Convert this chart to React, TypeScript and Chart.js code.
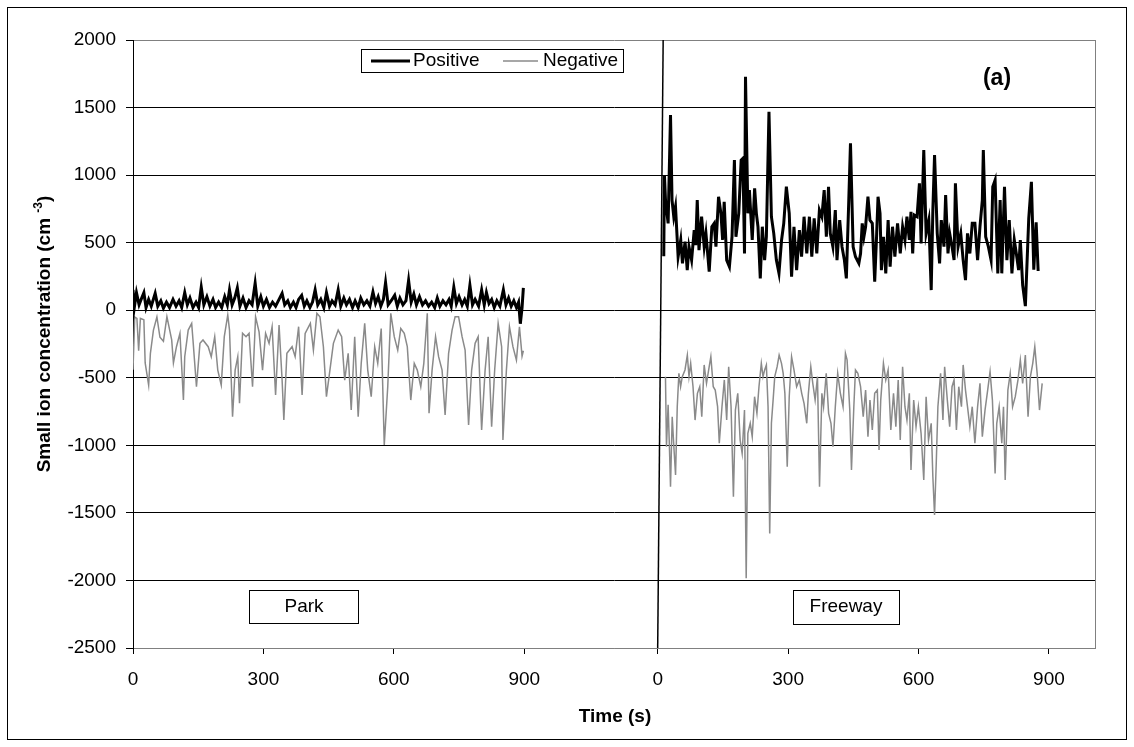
import { useEffect, useRef } from 'react';
import { Chart, registerables } from 'chart.js';

Chart.register(...registerables);

// ---------- data ----------
// x axis: Park time (s) starts at 0, Freeway time (s) starts at FREEWAY_START on the shared axis
const FREEWAY_START = 1207;
const X_AXIS_MAX = 2213;
const xTickValues = [0, 300, 600, 900, 1207, 1507, 1807, 2107];
const xTickLabels = ['0', '300', '600', '900', '0', '300', '600', '900'];
const Y_MIN = -2500;
const Y_MAX = 2000;
const Y_STEP = 500;

// [time (s), concentration (cm^-3)]
const parkPositive: [number, number][] = [
  [0, 150], [3, 20], [8, 130], [14, 40], [20, 90], [25, 130], [30, 20], [36, 80], [42, 30], [51, 125],
  [57, 30], [64, 70], [70, 15], [77, 60], [84, 20], [92, 80], [99, 30], [106, 70], [112, 20], [119, 130],
  [125, 40], [131, 90], [138, 20], [145, 60], [151, 20], [157, 170], [163, 40], [170, 100], [177, 30], [184, 80],
  [190, 20], [197, 60], [204, 20], [211, 100], [217, 40], [222, 150], [228, 40], [234, 90], [240, 165], [246, 30],
  [253, 90], [260, 20], [267, 70], [274, 40], [281, 200], [287, 30], [294, 100], [300, 30], [307, 80], [314, 20],
  [321, 60], [328, 30], [336, 80], [343, 125], [349, 40], [356, 70], [362, 20], [369, 60], [375, 20], [381, 80],
  [388, 110], [394, 30], [400, 70], [407, 20], [413, 60], [419, 150], [425, 40], [432, 80], [439, 20], [445, 130],
  [452, 30], [458, 70], [465, 40], [472, 150], [478, 30], [485, 90], [491, 40], [498, 80], [505, 20], [511, 70],
  [518, 20], [524, 90], [531, 40], [538, 70], [545, 30], [552, 135], [558, 50], [564, 100], [570, 30], [576, 80],
  [581, 205], [587, 40], [594, 70], [602, 110], [608, 30], [614, 90], [621, 40], [628, 70], [634, 220], [640, 60],
  [646, 120], [652, 40], [659, 100], [666, 40], [673, 70], [680, 30], [687, 60], [694, 20], [700, 90], [706, 30],
  [713, 70], [720, 40], [727, 80], [732, 30], [738, 170], [744, 50], [750, 100], [757, 40], [763, 80], [769, 30],
  [775, 185], [781, 40], [787, 80], [795, 30], [802, 150], [808, 40], [813, 130], [819, 50], [825, 80], [831, 20],
  [837, 70], [844, 30], [852, 150], [858, 40], [864, 90], [870, 30], [876, 70], [882, 20], [887, 60], [891, -100],
  [895, 20], [898, 165],
];

const parkNegative: [number, number][] = [
  [0, -440], [4, -50], [9, -60], [13, -300], [17, -60], [25, -70], [28, -390], [36, -555], [40, -320], [47, -147],
  [55, -50], [62, -200], [70, -230], [78, -48], [89, -220], [93, -390], [100, -270], [108, -171], [116, -665], [119, -344],
  [127, -147], [135, -97], [138, -220], [146, -566], [154, -245], [161, -220], [173, -270], [180, -344], [188, -196], [195, -443],
  [203, -554], [210, -196], [218, -35], [222, -147], [229, -788], [235, -443], [241, -344], [245, -689], [252, -171], [260, -196],
  [267, -171], [275, -566], [282, -48], [290, -160], [298, -443], [305, -171], [313, -245], [320, -122], [328, -628], [336, -110],
  [343, -517], [347, -813], [354, -319], [366, -270], [373, -344], [381, -122], [389, -628], [396, -171], [408, -97], [415, -295],
  [423, -23], [430, -48], [438, -270], [445, -640], [453, -443], [461, -245], [472, -147], [480, -196], [487, -517], [495, -319],
  [502, -739], [510, -196], [518, -788], [525, -393], [533, -97], [540, -443], [548, -640], [556, -270], [563, -393], [571, -135],
  [578, -998], [586, -566], [593, -23], [601, -196], [609, -295], [616, -135], [624, -171], [631, -270], [639, -665], [647, -393],
  [654, -443], [662, -566], [669, -393], [677, -23], [681, -763], [688, -443], [696, -196], [703, -344], [711, -443], [718, -776],
  [726, -319], [734, -147], [741, -48], [749, -48], [757, -196], [764, -295], [772, -850], [779, -443], [787, -245], [794, -196],
  [802, -887], [810, -443], [817, -196], [825, -862], [832, -443], [840, -97], [848, -270], [851, -961], [859, -443], [866, -122],
  [874, -270], [882, -369], [889, -122], [895, -340], [898, -300],
];

const freewayPositive: [number, number][] = [
  [14, 400], [15.5, 1000], [18, 815], [24, 643], [29.5, 1444], [33, 815], [37, 692], [41, 766], [47, 396], [53, 520],
  [57, 347], [63, 507], [68, 297], [72, 470], [78, 371], [84, 593], [87.5, 482], [91, 815], [95, 445], [101, 692],
  [107, 470], [111, 569], [118.5, 285], [124.6, 618], [130, 643], [134, 470], [140, 840], [145.5, 717], [149.4, 520], [153, 803],
  [158.7, 371], [165, 322], [171, 544], [176.5, 1111], [180, 544], [186.5, 717], [192, 1111], [196, 1124], [199.7, 420], [202, 1728],
  [207.5, 717], [211, 889], [217.5, 520], [223, 902], [227, 717], [230.7, 618], [236, 236], [240.7, 618], [246, 371], [250, 544],
  [256, 1469], [261.6, 692], [267, 569], [273, 371], [279, 273], [285, 520], [290, 643], [296, 914], [302.6, 717], [308, 248],
  [313.5, 618], [319.6, 297], [326, 593], [331, 396], [336.7, 692], [343, 420], [349, 692], [354.5, 396], [360, 680], [366, 420],
  [372, 741], [377.7, 692], [383, 889], [388, 544], [393, 914], [397, 569], [403, 470], [408.6, 741], [412.5, 371], [418.7, 667],
  [424, 470], [429.5, 371], [434, 236], [439.6, 815], [443.5, 1235], [449.6, 470], [455, 396], [462.8, 347], [466.7, 420], [470.5, 643],
  [474.4, 544], [478.3, 618], [483.7, 840], [488.3, 667], [493.7, 643], [499.2, 211], [503.8, 569], [506.9, 840], [511.5, 717], [514.6, 297],
  [519.3, 544], [524.7, 273], [530.1, 667], [534.7, 322], [540.2, 618], [545.6, 396], [551.8, 643], [558, 420], [563.4, 618], [568.8, 520],
  [573.4, 692], [578.9, 520], [582.7, 729], [586.6, 420], [590.5, 704], [596.7, 692], [602.1, 939], [606, 495], [612.1, 1185], [617.5, 569],
  [623.7, 667], [629.2, 149], [633, 741], [636.9, 1148], [643.1, 569], [648.5, 347], [652.4, 667], [658.6, 470], [662.4, 852], [667.8, 420],
  [671.7, 569], [677.1, 470], [681.8, 371], [684.9, 939], [691, 470], [697.2, 569], [702.7, 371], [708.1, 223], [712.7, 569], [718.1, 420],
  [723.6, 643], [729.7, 643], [735.9, 371], [741.4, 618], [746.8, 815], [749.1, 1185], [754.5, 544], [760.7, 470], [766.9, 371], [770.8, 914],
  [776.2, 963], [782.4, 273], [787.8, 815], [791.6, 273], [797.8, 914], [803.3, 371], [808.7, 667], [814.9, 273], [820.3, 520], [825, 420],
  [830.3, 297], [834.2, 520], [839.6, 186], [845.8, 30], [853.6, 680], [859.7, 950], [865.2, 300], [870.6, 650], [875.2, 290],
];

const freewayNegative: [number, number][] = [
  [17.9, -492], [20.2, -1010], [24, -700], [27.2, -1035], [29.5, -1306], [33.4, -788], [37.2, -1010], [41.1, -1220], [45, -714], [48.8, -467],
  [52.7, -566], [56.6, -492], [62.8, -442], [68.2, -332], [72, -492], [75.9, -393], [81.3, -566], [86, -813], [91.4, -615], [96.8, -566],
  [101.4, -788], [106.9, -405], [112.3, -541], [118.5, -418], [122.3, -344], [127.8, -566], [132.4, -591], [137.8, -714], [141.7, -985], [147.9, -714],
  [153.3, -516], [158.7, -813], [163.3, -418], [168.8, -714], [174.2, -1380], [178.8, -739], [184.2, -615], [189.7, -961], [194.3, -1060], [199.7, -739],
  [203.6, -1984], [207.4, -911], [212.9, -837], [217.5, -936], [222.9, -640], [228.3, -763], [233, -566], [238.4, -393], [242.3, -492], [246.1, -442],
  [250, -405], [253.9, -714], [257.7, -1652], [261.6, -837], [265.5, -665], [269.3, -492], [274.8, -418], [279.4, -332], [284.8, -393], [288.7, -467],
  [292.6, -615], [298, -1158], [302.6, -640], [308, -344], [313.5, -442], [319.6, -566], [325.8, -516], [331.3, -615], [336.7, -689], [342.9, -837],
  [346.7, -615], [352.2, -418], [356.8, -541], [362.2, -665], [367.6, -492], [372.3, -1306], [377.7, -615], [381.6, -714], [387.7, -467], [393.2, -763],
  [398.6, -837], [403.2, -1010], [408.6, -714], [414.1, -467], [420.3, -615], [426.4, -714], [431.9, -319], [435.7, -368], [441.9, -739], [445.8, -1183],
  [451.2, -714], [455, -442], [460.5, -467], [466.7, -566], [472.8, -788], [478.3, -591], [483.7, -936], [488.3, -665], [493.7, -887], [499.2, -615],
  [505.3, -591], [509.2, -1035], [513.1, -665], [519.3, -393], [524.7, -516], [530.1, -442], [536.3, -887], [542.5, -615], [547.9, -862], [553.3, -516],
  [558, -961], [563.4, -418], [568.8, -714], [573.4, -813], [578.9, -615], [582.7, -1183], [588.9, -665], [594.3, -862], [599.7, -714], [605.9, -911],
  [612.1, -1257], [617.5, -640], [623, -961], [629.2, -837], [633, -1232], [636.9, -1516], [640.8, -1133], [644.6, -714], [650.8, -467], [656.2, -813],
  [660.1, -418], [666.3, -665], [671.7, -862], [677.1, -566], [681.8, -516], [687.2, -887], [692.6, -566], [698.8, -714], [702.7, -405], [708.1, -591],
  [712.7, -714], [718.1, -862], [723.6, -714], [729.7, -985], [735.9, -714], [741.4, -541], [746.8, -936], [753, -739], [759.1, -591], [764.6, -455],
  [770, -665], [776.2, -1208], [780, -837], [785.5, -714], [791.6, -985], [795.5, -714], [799.4, -1257], [805.6, -591], [811, -467], [816.4, -714],
  [822.6, -640], [828.8, -516], [834.2, -368], [839.6, -541], [845.8, -332], [852, -788], [857.4, -492], [862.8, -393], [867.5, -270], [872.9, -467],
  [878.3, -739], [884.5, -541],
];

// divider between the two sessions (freeway time, value)
const dividerLine: [number, number][] = [[12.6, 2000], [0, -2500]];

const seriesNames = ['Positive', 'Negative'];
const panelLabels = ['Park', 'Freeway'];
const panelTag = '(a)';
const xTitle = 'Time (s)';
const yTitleMain = 'Small ion concentration (cm ';
const yTitleSup = '-3';
const yTitleEnd = ')';

// ---------- styling ----------
const FONT = '"Liberation Sans", Arial, Helvetica, sans-serif';
const POS_COLOR = '#000000';
const NEG_COLOR = '#8a8a8a';
const FRAME_GRAY = '#808080';

const toPoints = (pairs: [number, number][], offset: number) =>
  pairs.map(([t, v]) => ({ x: t + offset, y: v }));

const decorPlugin = {
  id: 'decor',
  afterDraw(chart: any) {
    const ctx: CanvasRenderingContext2D = chart.ctx;
    const a = chart.chartArea;
    ctx.save();
    // outer frame
    ctx.strokeStyle = '#000';
    ctx.lineWidth = 1;
    ctx.strokeRect(7.5, 7.5, 1119, 732);
    // plot right border
    ctx.strokeStyle = FRAME_GRAY;
    ctx.beginPath();
    ctx.moveTo(Math.round(a.right) + 0.5, a.top);
    ctx.lineTo(Math.round(a.right) + 0.5, a.bottom);
    ctx.stroke();

    // legend
    ctx.fillStyle = '#fff';
    ctx.fillRect(361, 49, 262, 23);
    ctx.strokeStyle = '#000';
    ctx.lineWidth = 1;
    ctx.strokeRect(361.5, 49.5, 262, 23);
    ctx.font = `19px ${FONT}`;
    ctx.textBaseline = 'middle';
    ctx.textAlign = 'left';
    ctx.fillStyle = '#000';
    ctx.lineWidth = 3;
    ctx.strokeStyle = POS_COLOR;
    ctx.beginPath();
    ctx.moveTo(371, 61);
    ctx.lineTo(410, 61);
    ctx.stroke();
    ctx.fillText(seriesNames[0], 413, 61);
    ctx.lineWidth = 1.5;
    ctx.strokeStyle = NEG_COLOR;
    ctx.beginPath();
    ctx.moveTo(503, 61);
    ctx.lineTo(538, 61);
    ctx.stroke();
    ctx.fillText(seriesNames[1], 543, 61);

    // panel labels
    ctx.lineWidth = 1;
    ctx.strokeStyle = '#000';
    ctx.textAlign = 'center';
    ctx.fillStyle = '#fff';
    ctx.fillRect(249, 590, 109, 33);
    ctx.strokeRect(249.5, 590.5, 109, 33);
    ctx.fillRect(793, 590, 106, 34);
    ctx.strokeRect(793.5, 590.5, 106, 34);
    ctx.fillStyle = '#000';
    ctx.fillText(panelLabels[0], 304, 607);
    ctx.fillText(panelLabels[1], 846, 607);

    // (a)
    ctx.font = `bold 23px ${FONT}`;
    ctx.fillText(panelTag, 997, 79);

    // x title
    ctx.font = `bold 19px ${FONT}`;
    ctx.fillText(xTitle, 615, 717);

    // y title with superscript
    ctx.translate(45, 334);
    ctx.rotate(-Math.PI / 2);
    ctx.textAlign = 'left';
    ctx.font = `bold 19px ${FONT}`;
    const wm = ctx.measureText(yTitleMain).width;
    const wc = ctx.measureText(yTitleEnd).width;
    ctx.font = `bold 12px ${FONT}`;
    const ws = ctx.measureText(yTitleSup).width;
    const start = -(wm + ws + wc) / 2;
    ctx.font = `bold 19px ${FONT}`;
    ctx.fillText(yTitleMain, start, 0);
    ctx.font = `bold 12px ${FONT}`;
    ctx.fillText(yTitleSup, start + wm, -6);
    ctx.font = `bold 19px ${FONT}`;
    ctx.fillText(yTitleEnd, start + wm + ws, 0);
    ctx.restore();
  },
};

export default function App() {
  const ref = useRef<HTMLCanvasElement>(null);

  useEffect(() => {
    const lineBase = { pointRadius: 0, tension: 0, fill: false };
    const chart = new Chart(ref.current!, {
      type: 'line',
      data: {
        datasets: [
          { ...lineBase, label: seriesNames[0], data: toPoints(parkPositive, 0), borderColor: POS_COLOR, borderWidth: 3 },
          { ...lineBase, label: seriesNames[1], data: toPoints(parkNegative, 0), borderColor: NEG_COLOR, borderWidth: 1.5 },
          { ...lineBase, label: seriesNames[0], data: toPoints(freewayPositive, FREEWAY_START), borderColor: POS_COLOR, borderWidth: 3 },
          { ...lineBase, label: seriesNames[1], data: toPoints(freewayNegative, FREEWAY_START), borderColor: NEG_COLOR, borderWidth: 1.5 },
          { ...lineBase, label: 'divider', data: toPoints(dividerLine, FREEWAY_START), borderColor: '#000', borderWidth: 1.5 },
        ],
      } as any,
      options: {
        animation: false,
        responsive: false,
        devicePixelRatio: 1,
        layout: { padding: { left: 0, right: 39, top: 40, bottom: 0 } },
        plugins: { legend: { display: false }, tooltip: { enabled: false } },
        scales: {
          x: {
            type: 'linear',
            min: 0,
            max: X_AXIS_MAX,
            afterBuildTicks: (s: any) => {
              s.ticks = xTickValues.map((v) => ({ value: v }));
            },
            afterFit: (s: any) => {
              s.height = 99;
            },
            ticks: {
              autoSkip: false,
              maxRotation: 0,
              padding: 14,
              color: '#000',
              font: { family: FONT, size: 19 },
              callback: (_v: any, i: number) => xTickLabels[i],
            },
            grid: { drawOnChartArea: false, drawTicks: true, tickLength: 6, color: '#000', tickColor: '#000' },
            border: { display: true, color: FRAME_GRAY, width: 1 },
          },
          y: {
            type: 'linear',
            min: Y_MIN,
            max: Y_MAX,
            afterFit: (s: any) => {
              s.width = 133;
            },
            ticks: {
              stepSize: Y_STEP,
              padding: 10,
              color: '#000',
              font: { family: FONT, size: 19 },
              callback: (v: any) => String(v),
            },
            grid: {
              drawTicks: true,
              tickLength: 7,
              tickColor: '#000',
              color: (c: any) =>
                c.tick && (c.tick.value === Y_MAX || c.tick.value === Y_MIN) ? FRAME_GRAY : '#000',
            },
            border: { display: true, color: '#000', width: 1 },
          },
        },
      } as any,
      plugins: [decorPlugin],
    });
    return () => chart.destroy();
  }, []);

  return (
    <div style={{ position: 'absolute', left: 0, top: 0, width: 1134, height: 747, background: '#fff' }}>
      <canvas ref={ref} width={1134} height={747} style={{ display: 'block', width: 1134, height: 747 }} />
    </div>
  );
}
